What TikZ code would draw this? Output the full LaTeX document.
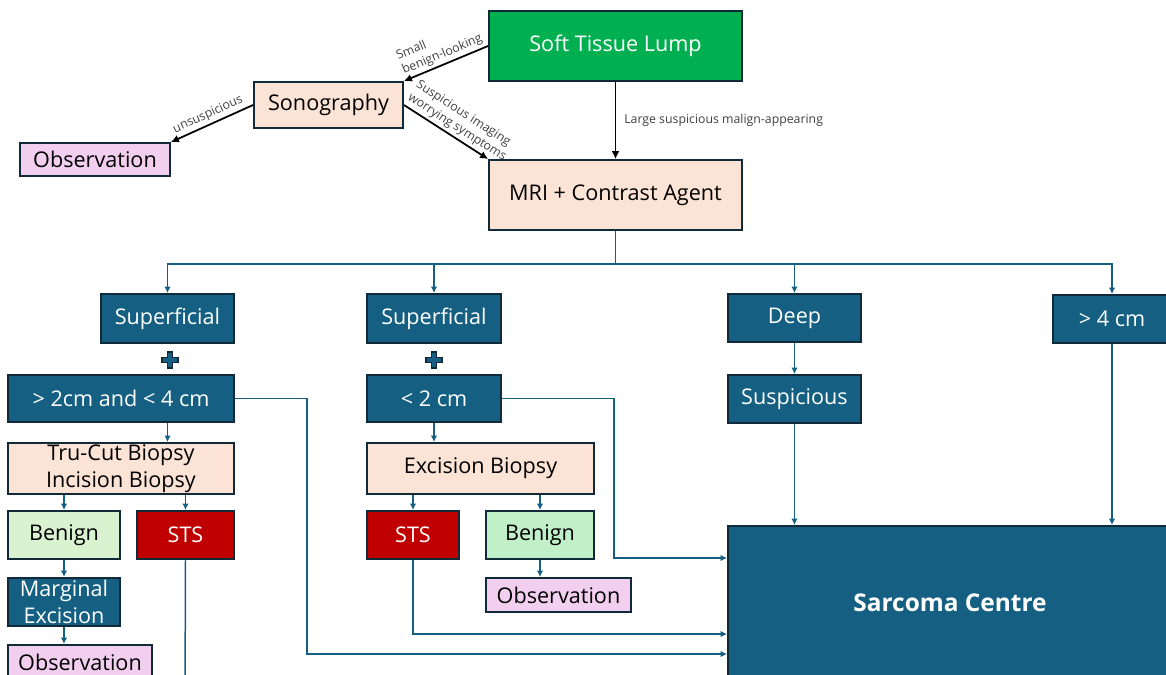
\documentclass[tikz,border=0pt]{standalone}
\usepackage{fontspec}
\setmainfont{Open Sans}
\usepackage{tikz}
\usetikzlibrary{calc,arrows.meta}
\definecolor{lumpgreen}{HTML}{00B050}
\definecolor{peach}{HTML}{FBE3D6}
\definecolor{obspink}{HTML}{F2CEEF}
\definecolor{accentblue}{HTML}{156082}
\definecolor{edgedark}{HTML}{102A3A}
\definecolor{benigngreen}{HTML}{D9F2D0}
\definecolor{benigngreentwo}{HTML}{C1F0C8}
\definecolor{stsred}{HTML}{C00000}
\definecolor{tagtext}{HTML}{404040}
\def\drawlink{\draw[color=accentblue, line width=0.85pt, -{Latex[length=3.6pt,width=3.6pt]}]}
\def\drawplain{\draw[color=accentblue, line width=0.85pt]}
\def\drawchoice{\draw[color=black, line width=1pt, -{Latex[length=4.5pt,width=4.5pt]}]}

\begin{document}
\begin{tikzpicture}[x=0.02cm,y=-0.02cm,
  wd/.style={minimum width=#1*0.02cm},
  ht/.style={minimum height=#1*0.02cm},
  box/.style={draw=edgedark, line width=1.1pt, inner sep=0pt, align=center,
    font=\fontsize{12.3}{15.5}\selectfont},
  darkbox/.style={box, fill=accentblue, text=white},
  peachbox/.style={box, fill=peach},
  pinkbox/.style={box, fill=obspink},
  stsbox/.style={box, fill=stsred, text=white},
  tag/.style={font=\fontsize{7}{8.6}\selectfont, text=tagtext, align=left, inner sep=1.5pt},
  plussign/.pic={\filldraw[fill=accentblue, draw=edgedark, line width=0.7pt]
    (-2.8,-8) -- (2.8,-8) -- (2.8,-2.8) -- (8,-2.8) -- (8,2.8) -- (2.8,2.8) -- (2.8,8)
    -- (-2.8,8) -- (-2.8,2.8) -- (-8,2.8) -- (-8,-2.8) -- (-2.8,-2.8) -- cycle;}]
\useasboundingbox (0,0) rectangle (1166,674);
\clip (0,0) rectangle (1166,674);

% -------- first triage ---------
\node[box, fill=lumpgreen, text=white, wd=253, ht=70] (lump) at (615.5,46) {Soft Tissue Lump};
\node[peachbox, wd=149, ht=46] (sono) at (328.5,105) {Sonography};
\node[pinkbox, wd=150, ht=33] (obsA) at (95,159.5) {Observation};
\node[peachbox, wd=253, ht=70] (mri) at (615.5,195) {MRI + Contrast Agent};

\drawchoice (lump.west) to node[tag, sloped, above, midway] {Small\\benign-looking} (sono.north east);
\drawchoice (lump.south) to node[tag, right=3pt, midway] {Large suspicious malign-appearing} (mri.north);
\drawchoice (sono.east) to node[tag, sloped, above, pos=0.57] {Suspicious imaging\\worrying symptoms} (mri.north west);
\drawchoice (sono.west) to node[tag, sloped, above, midway] {unsuspicious} (obsA.north east);

% -------- split after the MRI ---------
\node[darkbox, wd=133, ht=49] (supA) at (167.5,318.5) {Superficial};
\node[darkbox, wd=134, ht=49] (supB) at (434,318.5) {Superficial};
\node[darkbox, wd=133, ht=48] (deep) at (794.5,318) {Deep};
\node[darkbox, wd=118, ht=48] (large) at (1112,319) {> 4 cm};
\coordinate (bus) at ($(mri.south)+(0,33)$);
\drawplain (mri.south) -- (bus);
\drawlink (bus) -| (supA.north);
\drawlink (bus) -| (supB.north);
\drawlink (bus) -| (deep.north);
\drawlink (bus) -| (large.north);

% -------- superficial, 2 to 4 cm ---------
\pic at (170,360) {plussign};
\node[darkbox, wd=226, ht=47] (midsize) at (121,398.5) {> 2cm and < 4 cm};
\node[peachbox, wd=226, ht=51] (trucut) at (121,468.5) {Tru-Cut Biopsy\\Incision Biopsy};
\node[box, fill=benigngreen, wd=112, ht=48] (benignA) at (64,535) {Benign};
\node[stsbox, wd=97, ht=48] (stsA) at (185.5,535) {STS};
\node[darkbox, wd=112, ht=48] (marginal) at (64,602) {Marginal\\Excision};
\node[pinkbox, wd=144, ht=35] (obsB) at (80,662.5) {Observation};
\drawlink (midsize.south -| supA.south) -- (trucut.north -| supA.south);
\drawlink (trucut.south -| benignA.north) -- (benignA.north);
\drawlink (trucut.south -| stsA.north) -- (stsA.north);
\drawlink (benignA.south) -- (marginal.north);
\drawlink (marginal.south) -- (marginal.south |- obsB.north);
\coordinate (stsAend) at (185,700);
\drawplain (stsA.south) -- (stsAend);

% -------- superficial, under 2 cm ---------
\pic at (434,360) {plussign};
\node[darkbox, wd=134, ht=47] (small) at (434,398.5) {< 2 cm};
\node[peachbox, wd=227, ht=51] (excision) at (480.5,468.5) {Excision Biopsy};
\node[stsbox, wd=92, ht=48] (stsB) at (413,535) {STS};
\node[box, fill=benigngreentwo, wd=108, ht=48] (benignB) at (540,535) {Benign};
\node[pinkbox, wd=145, ht=34] (obsC) at (558.5,595) {Observation};
\drawlink (small.south) -- (small.south |- excision.north);
\drawlink (excision.south -| stsB.north) -- (stsB.north);
\drawlink (excision.south -| benignB.north) -- (benignB.north);
\drawlink (benignB.south) -- (benignB.south |- obsC.north);

% -------- deep and large ---------
\node[darkbox, wd=133, ht=48] (susp) at (794.5,399) {Suspicious};
\drawlink (deep.south) -- (susp.north);

% -------- referral centre ---------
\node[darkbox, wd=444, ht=154, font=\fontsize{13.9}{16}\selectfont\bfseries] (centre) at (950,603) {Sarcoma Centre};
\drawlink (susp.south) -- (susp.south |- centre.north);
\drawlink (large.south) -- (large.south |- centre.north);
\coordinate (smallturn) at (614,558);
\coordinate (stsBturn) at (413,634);
\coordinate (midturn) at (307,654);
\drawlink (small.east) -| (smallturn) -- (smallturn -| centre.west);
\drawlink (stsB.south) -- (stsBturn) -- (stsBturn -| centre.west);
\drawlink (midsize.east) -| (midturn) -- (midturn -| centre.west);
\end{tikzpicture}
\end{document}
